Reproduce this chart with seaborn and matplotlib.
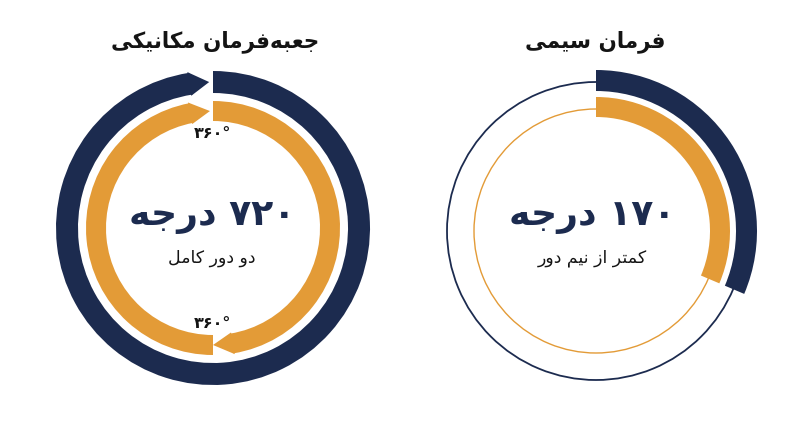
import re
import numpy as np
import matplotlib
matplotlib.use('Agg')
import matplotlib.pyplot as plt
import seaborn as sns

# --- data ---
chart_titles = ["جعبه\u200cفرمان مکانیکی", "فرمان سیمی"]
center_values = ["۷۲۰ درجه", "۱۷۰ درجه"]
center_notes = ["دو دور کامل", "کمتر از نیم دور"]
turn_labels = ["۳۶۰°", "۳۶۰°"]

# mechanical box: segments in degrees, clockwise from the top
mech_outer_start = [0]
mech_outer_end = [358.5]
mech_inner_start = [0, 180]
mech_inner_end = [180, 358.5]

# steer-by-wire: swept arc in degrees (outer, inner)
wire_sweep = [113, 113]

NAVY = '#1C2B4F'
ORANGE = '#E39B37'
INK = '#141414'

# contextual forms: isolated, final, initial, medial
FORMS = {
    'ا': ('\uFE8D', '\uFE8E', None, None),
    'ب': ('\uFE8F', '\uFE90', '\uFE91', '\uFE92'),
    'ت': ('\uFE95', '\uFE96', '\uFE97', '\uFE98'),
    'ج': ('\uFE9D', '\uFE9E', '\uFE9F', '\uFEA0'),
    'د': ('\uFEA9', '\uFEAA', None, None),
    'ر': ('\uFEAD', '\uFEAE', None, None),
    'ز': ('\uFEAF', '\uFEB0', None, None),
    'س': ('\uFEB1', '\uFEB2', '\uFEB3', '\uFEB4'),
    'ع': ('\uFEC9', '\uFECA', '\uFECB', '\uFECC'),
    'ف': ('\uFED1', '\uFED2', '\uFED3', '\uFED4'),
    'ل': ('\uFEDD', '\uFEDE', '\uFEDF', '\uFEE0'),
    'م': ('\uFEE1', '\uFEE2', '\uFEE3', '\uFEE4'),
    'ن': ('\uFEE5', '\uFEE6', '\uFEE7', '\uFEE8'),
    'ه': ('\uFEE9', '\uFEEA', '\uFEEB', '\uFEEC'),
    'و': ('\uFEED', '\uFEEE', None, None),
    'ک': ('\uFB8E', '\uFB8F', '\uFB90', '\uFB91'),
    'ی': ('\uFBFC', '\uFBFD', '\uFBFE', '\uFBFF'),
}


def fa(text):
    # matplotlib has no arabic shaping, so do it by hand and reverse
    out = []
    for i, c in enumerate(text):
        if c not in FORMS:
            out.append(c)
            continue
        prev = text[i - 1] if i > 0 else ''
        nxt = text[i + 1] if i + 1 < len(text) else ''
        join_prev = prev in FORMS and FORMS[prev][2] is not None
        join_next = FORMS[c][2] is not None and nxt in FORMS
        iso, fin, ini, med = FORMS[c]
        if join_prev and join_next:
            out.append(med)
        elif join_prev:
            out.append(fin)
        elif join_next:
            out.append(ini)
        else:
            out.append(iso)
    s = ''.join(out).replace('\u200c', '')[::-1]
    return re.sub(r'[۰-۹0-9°]+', lambda m: m.group(0)[::-1], s)


sns.set_theme(style='white')
plt.rcParams['font.family'] = ['DejaVu Sans']

W, H = 800, 447
fig = plt.figure(figsize=(8, 4.47), dpi=100)
fig.patch.set_facecolor('white')
R = 180  # axes half size in pixels


def polar_axes(cx, cy):
    ax = fig.add_axes([(cx - R) / W, (H - cy - R) / H, 2 * R / W, 2 * R / H],
                      projection='polar')
    ax.set_theta_zero_location('N')
    ax.set_theta_direction(-1)
    ax.set_ylim(0, R)
    ax.set_axis_off()
    return ax


def band(ax, start, end, r_in, r_out, color, z=2, edge=0.0):
    ax.bar(np.deg2rad(start), r_out - r_in, width=np.deg2rad(end - start),
           bottom=r_in, align='edge', color=color, edgecolor=color,
           linewidth=edge, zorder=z)


def arrow_band(ax, start, end, r_in, r_out, color, head_px=20, barb=1.0):
    r_mid = (r_in + r_out) / 2
    head = np.rad2deg(head_px / r_mid)
    # body runs a little into the head so no seam shows
    band(ax, start, end - head + 0.6, r_in, r_out, color)
    tb, tip = np.deg2rad(end - head), np.deg2rad(end)
    ax.fill([tb, tb, tip], [r_in - barb, r_out + barb, r_mid],
            color=color, linewidth=0, zorder=2)


def px(x, y):
    return x / W, 1 - y / H


# --- mechanical steering box ---
ax1 = polar_axes(213, 228)
for s, e in zip(mech_outer_start, mech_outer_end):
    arrow_band(ax1, s, e, 135, 157, NAVY)
for s, e in zip(mech_inner_start, mech_inner_end):
    arrow_band(ax1, s, e, 107, 127, ORANGE)

# --- steer by wire ---
ax2 = polar_axes(596, 231)
band(ax2, 0, 360, 148.1, 149.9, NAVY, z=1)
band(ax2, 0, 360, 121.3, 122.7, ORANGE, z=1)
band(ax2, 0, wire_sweep[0], 140, 161, NAVY)
band(ax2, 0, wire_sweep[1], 114, 134, ORANGE)

# --- texts ---
for cx, title, val, note in zip([215, 595], chart_titles, center_values, center_notes):
    fig.text(*px(cx, 42), fa(title), ha='center', va='center',
             fontsize=15.5, fontweight='bold', color=INK)
    fig.text(*px(cx - 3, 217), fa(val), ha='center', va='center',
             fontsize=26, fontweight='bold', color=NAVY)
    fig.text(*px(cx - 3, 258), fa(note), ha='center', va='center',
             fontsize=12.5, color=INK)

for y, lab in zip([133, 323], turn_labels):
    fig.text(*px(212, y), fa(lab), ha='center', va='center',
             fontsize=11.5, fontweight='bold', color=INK)

fig.savefig('out.png', dpi=100, facecolor='white')
